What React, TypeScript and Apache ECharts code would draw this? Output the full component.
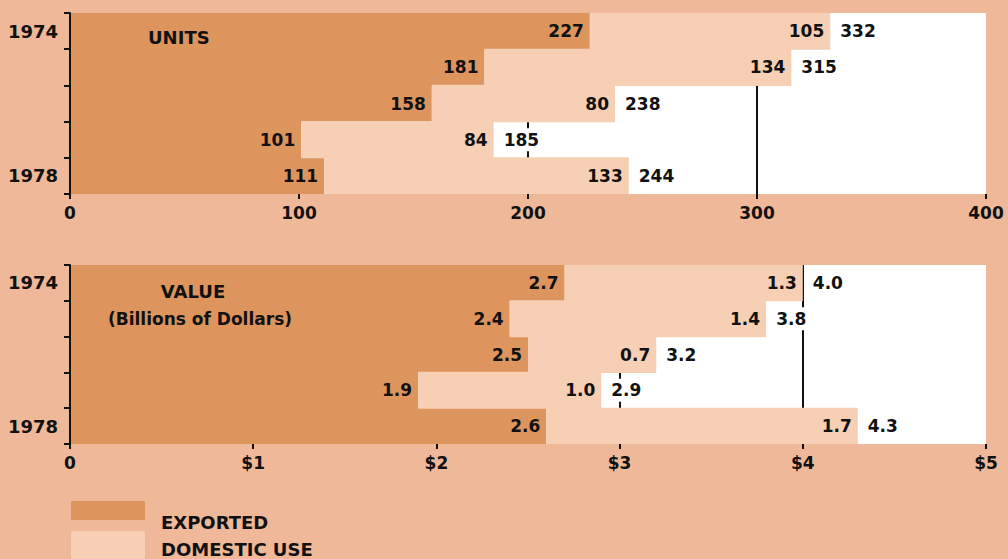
import React, { useEffect, useRef } from "react";
import * as echarts from "echarts";

// Years on the vertical axis (top to bottom)
const years = ["1974", "1975", "1976", "1977", "1978"];

// Units
const unitsExported = [227, 181, 158, 101, 111];
const unitsDomestic = [105, 134, 80, 84, 133];
const unitsTotal = [332, 315, 238, 185, 244];

// Value, billions of dollars
const valueExported = [2.7, 2.4, 2.5, 1.9, 2.6];
const valueDomestic = [1.3, 1.4, 0.7, 1.0, 1.7];
const valueTotal = [4.0, 3.8, 3.2, 2.9, 4.3];

const unitTicks = { min: 0, max: 400, interval: 100 };
const valueTicks = { min: 0, max: 5, interval: 1 };

const BG = "#EFB898";
const EXPORTED = "#DD945D";
const DOMESTIC = "#F6CFB4";
const INK = "#111111";
const FONT = "DejaVu Sans";

const numText = {
  color: INK,
  fontFamily: FONT,
  fontWeight: "bold" as const,
  fontSize: 17,
};

export default function App() {
  const ref = useRef<HTMLDivElement>(null);

  useEffect(() => {
    if (!ref.current) return;
    const chart = echarts.init(ref.current, undefined, { renderer: "svg" });

    const grids = [
      { left: 70, width: 916, top: 13, height: 181 },
      { left: 70, width: 916, top: 265, height: 179 },
    ];

    const xAxis = (
      ticks: { min: number; max: number; interval: number },
      gi: number,
      fmt: (v: number) => string
    ) => {
      const last = Math.round((ticks.max - ticks.min) / ticks.interval);
      const colors: string[] = [];
      for (let i = 0; i <= last; i++) colors.push(i === last ? "rgba(0,0,0,0)" : INK);
      return {
        type: "value",
        gridIndex: gi,
        min: ticks.min,
        max: ticks.max,
        interval: ticks.interval,
        axisLine: { show: false },
        axisTick: { show: true, length: 5, lineStyle: { color: INK, width: 2 } },
        axisLabel: { ...numText, fontSize: 17, margin: 10, formatter: fmt },
        splitLine: { show: true, lineStyle: { width: 2, color: colors } },
      };
    };

    const yAxis = (gi: number) => ({
      type: "category",
      gridIndex: gi,
      data: years,
      inverse: true,
      axisLine: { show: true, lineStyle: { color: INK, width: 2 } },
      axisTick: { show: true, length: 6, lineStyle: { color: INK, width: 2 } },
      axisLabel: {
        ...numText,
        fontSize: 18,
        margin: 12,
        interval: 0,
        formatter: (v: string, i: number) => (i === 0 || i === years.length - 1 ? v : ""),
      },
      splitLine: { show: false },
      z: 10,
    });

    const barSeries = (
      name: string,
      data: number[],
      color: string,
      gi: number,
      stack: string,
      fmt: (v: number) => string
    ) => ({
      name,
      type: "bar",
      stack,
      xAxisIndex: gi,
      yAxisIndex: gi,
      data,
      // slightly wider than the band so neighbouring rows meet without a seam
      barWidth: "103%",
      barCategoryGap: 0,
      itemStyle: { color },
      label: {
        show: true,
        position: "insideRight",
        distance: 6,
        ...numText,
        formatter: (p: any) => fmt(p.value),
      },
    });

    // Totals sit just past the end of each stacked bar, on a white box
    const totalSeries = (name: string, data: number[], gi: number, fmt: (v: number) => string) => ({
      name,
      type: "scatter",
      xAxisIndex: gi,
      yAxisIndex: gi,
      data: data.map((t, i) => [t, years[i]]),
      symbolSize: 0,
      itemStyle: { color: "#ffffff", opacity: 1 },
      label: {
        show: true,
        position: "right",
        distance: 6,
        backgroundColor: "#ffffff",
        padding: [3, 4],
        ...numText,
        color: INK,
        opacity: 1,
        formatter: (p: any) => fmt(p.value[0]),
      },
      z: 5,
    });

    const intFmt = (v: number) => String(v);
    const decFmt = (v: number) => v.toFixed(1);
    const titleFont = `bold 18px "${FONT}"`;

    chart.setOption({
      animation: false,
      backgroundColor: BG,
      grid: grids.map((g) => ({ ...g, show: true, backgroundColor: "#fff", borderWidth: 0 })),
      xAxis: [
        xAxis(unitTicks, 0, (v) => String(v)),
        xAxis(valueTicks, 1, (v) => (v === 0 ? "0" : "$" + v)),
      ],
      yAxis: [yAxis(0), yAxis(1)],
      series: [
        barSeries("Exported", unitsExported, EXPORTED, 0, "units", intFmt),
        barSeries("Domestic Use", unitsDomestic, DOMESTIC, 0, "units", intFmt),
        totalSeries("Total", unitsTotal, 0, intFmt),
        barSeries("Exported", valueExported, EXPORTED, 1, "value", decFmt),
        barSeries("Domestic Use", valueDomestic, DOMESTIC, 1, "value", decFmt),
        totalSeries("Total", valueTotal, 1, decFmt),
      ],
      graphic: [
        {
          type: "group",
          z: 100,
          children: [
            {
              type: "text",
              x: 148,
              y: 37,
              z: 100,
              style: { text: "UNITS", fill: INK, font: titleFont, verticalAlign: "middle" },
            },
            {
              type: "text",
              x: 193,
              y: 291,
              z: 100,
              style: { text: "VALUE", fill: INK, font: titleFont, align: "center", verticalAlign: "middle" },
            },
            {
              type: "text",
              x: 200,
              y: 319,
              z: 100,
              style: {
                text: "(Billions of Dollars)",
                fill: INK,
                font: `bold 17px "${FONT}"`,
                align: "center",
                verticalAlign: "middle",
              },
            },
            { type: "rect", shape: { x: 71, y: 501, width: 74, height: 19 }, style: { fill: EXPORTED } },
            { type: "rect", shape: { x: 71, y: 531, width: 74, height: 30 }, style: { fill: DOMESTIC } },
            {
              type: "text",
              x: 161,
              y: 522,
              style: { text: "EXPORTED", fill: INK, font: titleFont, verticalAlign: "middle" },
            },
            {
              type: "text",
              x: 161,
              y: 549,
              style: { text: "DOMESTIC USE", fill: INK, font: titleFont, verticalAlign: "middle" },
            },
          ],
        },
      ],
    });

    return () => chart.dispose();
  }, []);

  return (
    <div
      ref={ref}
      style={{ position: "absolute", left: 0, top: 0, width: 1008, height: 559 }}
    />
  );
}
